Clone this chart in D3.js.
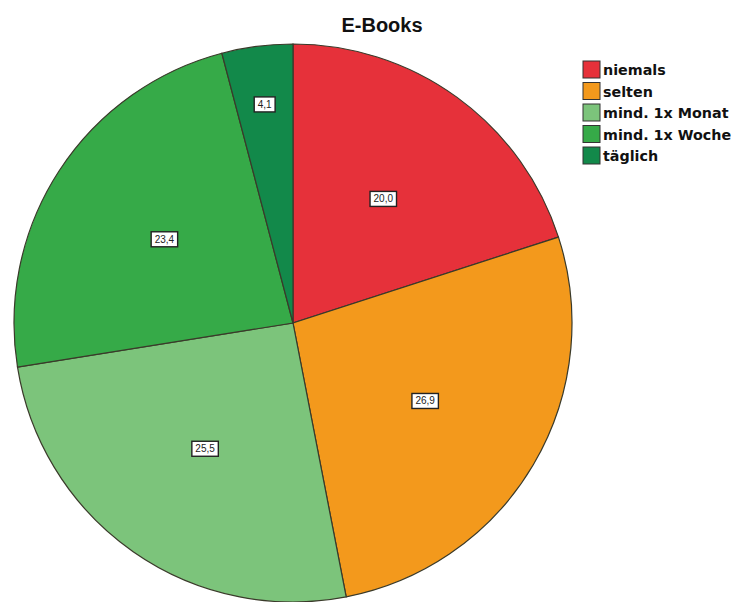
<!DOCTYPE html>
<html>
<head>
<meta charset="utf-8">
<script src="https://cdn.jsdelivr.net/npm/d3@7"></script>
<style>
  body { margin: 0; background: #fff; }
  svg { display: block; font-family: "Liberation Sans", Arial, sans-serif; }
</style>
</head>
<body>
<svg id="chart" width="735" height="602"></svg>
<script>
const categories = ['niemals', 'selten', 'mind. 1x Monat', 'mind. 1x Woche', 'täglich']
const values = [20.0, 26.9, 25.5, 23.4, 4.1]
const colors = ['#e6313a', '#f3991c', '#7cc47b', '#36aa48', '#12894a']
const title = 'E-Books'

const CX = 293
const CY = 323
const RADIUS = 279

let data = categories.map((c, i) => ({ key: c, value: values[i], color: colors[i] }))

let svg = d3.select('#chart')

let pie = d3.pie()
    .value(d => d.value)
    .sort(null)

let arc = d3.arc()
    .innerRadius(0)
    .outerRadius(RADIUS)

let slices = pie(data)

let g = svg.append('g')
    .attr('transform', 'translate(' + CX + ',' + CY + ')')

g.selectAll('path')
    .data(slices)
    .enter()
    .append('path')
    .attr('d', arc)
    .attr('fill', d => d.data.color)
    .attr('stroke', '#3a3a2a')
    .attr('stroke-width', 1.2)

// labels: small slices get pushed further out
let labelArc = d => {
    let r = (d.endAngle - d.startAngle) < 0.4 ? RADIUS * 0.79 : RADIUS * 0.55
    return d3.arc().innerRadius(r).outerRadius(r).centroid(d)
}

let fmt = v => d3.format('.1f')(v).replace('.', ',')

let labels = g.selectAll('.lbl')
    .data(slices)
    .enter()
    .append('g')
    .attr('class', 'lbl')
    .attr('transform', d => 'translate(' + labelArc(d) + ')')

labels.each(function(d) {
    let lg = d3.select(this)
    let t = lg.append('text')
        .text(fmt(d.data.value))
        .attr('text-anchor', 'middle')
        .attr('dy', '0.35em')
        .style('font-size', '10px')
        .style('fill', '#222')
    let w = t.node().getComputedTextLength() + 7
    lg.insert('rect', 'text')
        .attr('x', -w / 2)
        .attr('y', -7.5)
        .attr('width', w)
        .attr('height', 15)
        .attr('fill', '#fff')
        .attr('stroke', '#222')
        .attr('stroke-width', 1.4)
})

svg.append('text')
    .attr('x', 382)
    .attr('y', 32)
    .attr('text-anchor', 'middle')
    .style('font-size', '20px')
    .style('font-weight', 'bold')
    .style('fill', '#111')
    .text(title)

let legendY = d3.scaleBand()
    .domain(categories)
    .range([61, 61 + 21.5 * categories.length])

let legend = svg.append('g')
    .selectAll('g')
    .data(data)
    .enter()
    .append('g')
    .attr('transform', d => 'translate(583,' + legendY(d.key) + ')')

legend.append('rect')
    .attr('width', 17)
    .attr('height', 17)
    .attr('fill', d => d.color)
    .attr('stroke', '#333')
    .attr('stroke-width', 1)

legend.append('text')
    .attr('x', 20)
    .attr('y', 9)
    .attr('dy', '0.35em')
    .style('font-family', '"DejaVu Sans", sans-serif')
    .style('font-size', '14.3px')
    .style('font-weight', 'bold')
    .style('fill', '#111')
    .text(d => d.key)
</script>
</body>
</html>
